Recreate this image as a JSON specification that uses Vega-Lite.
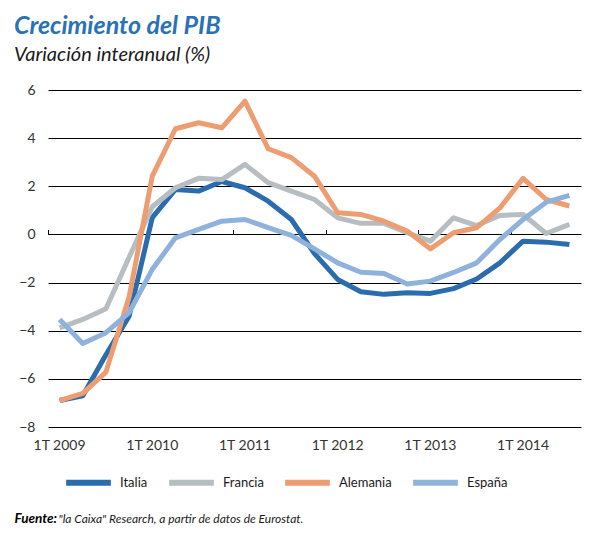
{
  "$schema": "https://vega.github.io/schema/vega-lite/v6.json",
  "width": 533,
  "height": 337,
  "padding": {"left": 14, "top": 14, "right": 5, "bottom": 5},
  "background": "white",
  "title": {
    "text": "Crecimiento del PIB",
    "subtitle": "Variación interanual (%)",
    "anchor": "start",
    "frame": "bounds",
    "font": "Lato",
    "fontSize": 25,
    "fontWeight": "bold",
    "fontStyle": "italic",
    "color": "#2a72b8",
    "subtitleFont": "Lato",
    "subtitleFontSize": 20,
    "subtitleFontStyle": "italic",
    "subtitleColor": "#1a1a1a",
    "subtitlePadding": 6,
    "offset": 18
  },
  "data": {
    "values": [
      {"q": "1T 2009", "Italia": -6.9, "Francia": -3.88, "Alemania": -6.9, "España": -3.53},
      {"q": "2T 2009", "Italia": -6.7, "Francia": -3.53, "Alemania": -6.6, "España": -4.53},
      {"q": "3T 2009", "Italia": -5.0, "Francia": -3.09, "Alemania": -5.72, "España": -4.08},
      {"q": "4T 2009", "Italia": -3.4, "Francia": -0.95, "Alemania": -2.6, "España": -3.25},
      {"q": "1T 2010", "Italia": 0.7, "Francia": 1.15, "Alemania": 2.42, "España": -1.45},
      {"q": "2T 2010", "Italia": 1.87, "Francia": 1.94, "Alemania": 4.39, "España": -0.14},
      {"q": "3T 2010", "Italia": 1.8, "Francia": 2.33, "Alemania": 4.64, "España": 0.21},
      {"q": "4T 2010", "Italia": 2.2, "Francia": 2.28, "Alemania": 4.43, "España": 0.55},
      {"q": "1T 2011", "Italia": 1.94, "Francia": 2.91, "Alemania": 5.54, "España": 0.62},
      {"q": "2T 2011", "Italia": 1.38, "Francia": 2.15, "Alemania": 3.56, "España": 0.28},
      {"q": "3T 2011", "Italia": 0.62, "Francia": 1.8, "Alemania": 3.19, "España": -0.04},
      {"q": "4T 2011", "Italia": -0.8, "Francia": 1.45, "Alemania": 2.42, "España": -0.6},
      {"q": "1T 2012", "Italia": -1.87, "Francia": 0.69, "Alemania": 0.9, "España": -1.18},
      {"q": "2T 2012", "Italia": -2.38, "Francia": 0.46, "Alemania": 0.83, "España": -1.57},
      {"q": "3T 2012", "Italia": -2.49, "Francia": 0.46, "Alemania": 0.55, "España": -1.62},
      {"q": "4T 2012", "Italia": -2.42, "Francia": 0.07, "Alemania": 0.14, "España": -2.06},
      {"q": "1T 2013", "Italia": -2.45, "Francia": -0.28, "Alemania": -0.6, "España": -1.94},
      {"q": "2T 2013", "Italia": -2.25, "Francia": 0.69, "Alemania": 0.07, "España": -1.58},
      {"q": "3T 2013", "Italia": -1.85, "Francia": 0.37, "Alemania": 0.28, "España": -1.18},
      {"q": "4T 2013", "Italia": -1.18, "Francia": 0.79, "Alemania": 1.1, "España": -0.21},
      {"q": "1T 2014", "Italia": -0.28, "Francia": 0.83, "Alemania": 2.33, "España": 0.62},
      {"q": "2T 2014", "Italia": -0.32, "Francia": 0.04, "Alemania": 1.45, "España": 1.34},
      {"q": "3T 2014", "Italia": -0.42, "Francia": 0.42, "Alemania": 1.18, "España": 1.62}
    ]
  },
  "transform": [{"fold": ["Italia", "Francia", "Alemania", "España"], "as": ["pais", "v"]}],
  "layer": [
    {
      "mark": {"type": "line", "strokeWidth": 5, "strokeJoin": "round"},
      "encoding": {
        "x": {
          "field": "q",
          "type": "ordinal",
          "bandPosition": 0.5,
          "sort": ["1T 2009","2T 2009","3T 2009","4T 2009","1T 2010","2T 2010","3T 2010","4T 2010","1T 2011","2T 2011","3T 2011","4T 2011","1T 2012","2T 2012","3T 2012","4T 2012","1T 2013","2T 2013","3T 2013","4T 2013","1T 2014","2T 2014","3T 2014"],
          "scale": {"type": "band", "paddingInner": 0, "paddingOuter": 0},
          "axis": {
            "orient": "bottom",
            "values": ["1T 2009", "1T 2010", "1T 2011", "1T 2012", "1T 2013", "1T 2014"],
            "ticks": false,
            "domain": false,
            "grid": false,
            "labelAngle": 0,
            "labelFont": "Lato",
            "labelFontSize": 14,
            "labelColor": "#333333",
            "labelPadding": 11,
            "title": "\"la Caixa\" Research, a partir de datos de Eurostat.",
            "titleX": 10,
            "titleY": 95,
            "titleAlign": "left",
            "titleAnchor": "start",
            "titleBaseline": "alphabetic",
            "titleFont": "Lato",
            "titleFontStyle": "italic",
            "titleFontWeight": "normal",
            "titleFontSize": 12,
            "titleColor": "#1a1a1a"
          }
        },
        "y": {
          "field": "v",
          "type": "quantitative",
          "scale": {"domain": [-8, 6], "nice": false, "zero": false},
          "axis": {
            "values": [-8, -6, -4, -2, 0, 2, 4, 6],
            "grid": true,
            "gridColor": "#000000",
            "gridWidth": 1,
            "gridOpacity": 1,
            "ticks": false,
            "domain": false,
            "labelPadding": 13,
            "labelFont": "Lato",
            "labelFontSize": 14,
            "labelColor": "#333333",
            "title": "Fuente:",
            "titleX": -34,
            "titleY": 432,
            "titleAngle": 0,
            "titleAlign": "left",
            "titleBaseline": "alphabetic",
            "titleFont": "Lato",
            "titleFontStyle": "italic",
            "titleFontWeight": "bold",
            "titleFontSize": 13.5,
            "titleColor": "#000000"
          }
        },
        "color": {
          "field": "pais",
          "type": "nominal",
          "scale": {
            "domain": ["Italia", "Francia", "Alemania", "España"],
            "range": ["#2b6cae", "#b7bec1", "#ee9d70", "#8fb2dd"]
          },
          "legend": {
            "orient": "none",
            "legendX": 15,
            "legendY": 367,
            "direction": "horizontal",
            "title": null,
            "symbolType": "stroke",
            "symbolSize": 2000,
            "symbolStrokeWidth": 6,
            "symbolOpacity": 1,
            "labelFont": "Lato",
            "labelFontSize": 13,
            "labelColor": "#1a1a1a",
            "labelOffset": 6,
            "columnPadding": 9
          }
        }
      }
    },
    {
      "mark": {"type": "line", "opacity": 0},
      "encoding": {
        "x": {
          "field": "q",
          "type": "ordinal",
          "bandPosition": 0.5,
          "sort": ["1T 2009","2T 2009","3T 2009","4T 2009","1T 2010","2T 2010","3T 2010","4T 2010","1T 2011","2T 2011","3T 2011","4T 2011","1T 2012","2T 2012","3T 2012","4T 2012","1T 2013","2T 2013","3T 2013","4T 2013","1T 2014","2T 2014","3T 2014"],
          "scale": {"type": "band", "paddingInner": 0, "paddingOuter": 0},
          "axis": {
            "orient": "top",
            "offset": -144.43,
            "values": ["1T 2009", "1T 2010", "1T 2011", "1T 2012", "1T 2013", "1T 2014"],
            "bandPosition": 0,
            "labels": false,
            "domain": false,
            "grid": false,
            "ticks": true,
            "tickSize": 5,
            "tickColor": "#000000",
            "tickWidth": 1,
            "title": null
          }
        },
        "y": {"field": "v", "type": "quantitative"},
        "detail": {"field": "pais"}
      }
    }
  ],
  "resolve": {"axis": {"x": "independent"}},
  "config": {"view": {"stroke": null}, "font": "Lato"}
}
